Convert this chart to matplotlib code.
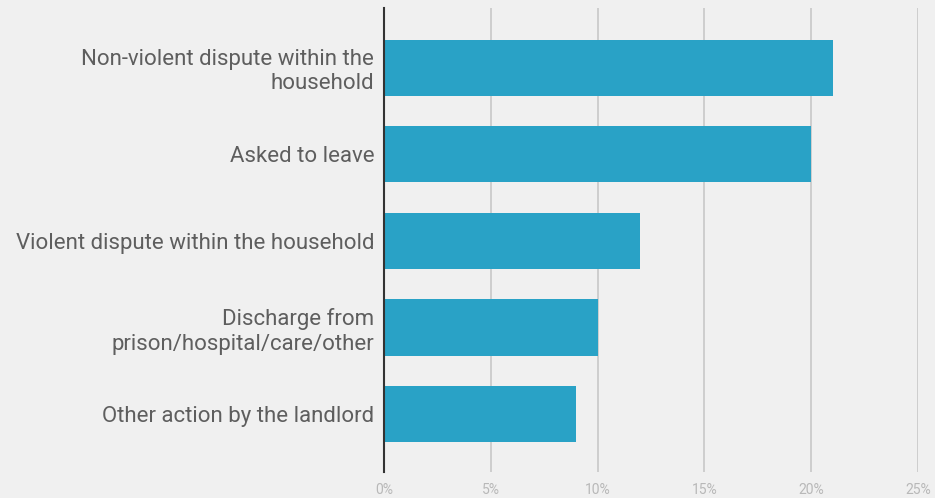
import matplotlib.pyplot as plt
from matplotlib.ticker import FuncFormatter

categories = ["Non-violent dispute within the\nhousehold",
              "Asked to leave",
              "Violent dispute within the household",
              "Discharge from\nprison/hospital/care/other",
              "Other action by the landlord"]
values = [21, 20, 12, 10, 9]
xticks = [0, 5, 10, 15, 20, 25]

plt.rcParams['font.family'] = ['Roboto', 'DejaVu Sans']

bg = '#f0f0f0'
fig = plt.figure(figsize=(9.35, 4.98), dpi=100, facecolor=bg)
ax = fig.add_axes([0.4107, 0.0522, 0.5711, 0.9317], facecolor=bg)

ypos = list(range(len(categories)))
ax.barh(ypos, values, height=0.65, color='#29a2c6', zorder=3)

ax.set_ylim(4.67, -0.69)
ax.set_xlim(0, 25)
ax.set_xticks(xticks)
ax.xaxis.set_major_formatter(FuncFormatter(lambda v, p: f"{v:.0f}%"))
ax.set_yticks(ypos)
ax.set_yticklabels(categories, fontsize=16, color='#5e5e5e', linespacing=1.2)

ax.grid(axis='x', color='#c8c8c8', linewidth=1.2, zorder=0)
ax.tick_params(axis='x', length=0, labelsize=10, labelcolor='#b8b8b8', pad=8)
ax.tick_params(axis='y', length=0, pad=7)

for s in ['top', 'right', 'bottom']:
    ax.spines[s].set_visible(False)
ax.spines['left'].set_color('#333333')
ax.spines['left'].set_linewidth(1.5)
ax.spines['left'].set_zorder(4)

fig.savefig('out.png', dpi=100, facecolor=bg)
